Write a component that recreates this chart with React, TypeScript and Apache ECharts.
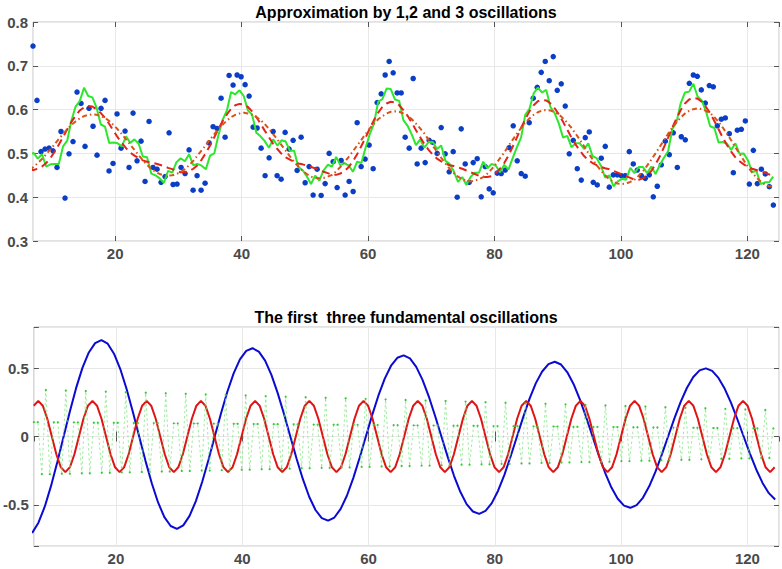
import React, { useEffect, useRef } from "react";
import * as echarts from "echarts";

// ---------------- data ----------------
// Observations and the 3rd oscillation are sampled on a regular grid
const SAMPLE_START = 7;
const SAMPLE_STEP = 0.633;

const OBSERVED: number[] = [
  0.745, 0.621, 0.504, 0.51, 0.512, 0.506, 0.468, 0.55, 0.398, 0.499,
  0.527, 0.64, 0.614, 0.516, 0.603, 0.562, 0.496, 0.603, 0.621, 0.46,
  0.477, 0.59, 0.512, 0.551, 0.468, 0.592, 0.483, 0.528, 0.436, 0.573,
  0.468, 0.464, 0.434, 0.447, 0.547, 0.429, 0.43, 0.468, 0.454, 0.508,
  0.416, 0.449, 0.416, 0.432, 0.524, 0.561, 0.557, 0.626, 0.537, 0.678,
  0.656, 0.679, 0.675, 0.657, 0.631, 0.56, 0.558, 0.512, 0.449, 0.49,
  0.55, 0.449, 0.441, 0.548, 0.51, 0.53, 0.461, 0.537, 0.433, 0.47,
  0.405, 0.464, 0.404, 0.431, 0.5, 0.481, 0.422, 0.484, 0.405, 0.436,
  0.413, 0.57, 0.47, 0.487, 0.519, 0.465, 0.616, 0.636, 0.679, 0.71,
  0.684, 0.638, 0.638, 0.537, 0.512, 0.671, 0.476, 0.512, 0.479, 0.53,
  0.525, 0.5, 0.559, 0.499, 0.458, 0.504, 0.4, 0.556, 0.476, 0.434,
  0.479, 0.488, 0.401, 0.47, 0.419, 0.41, 0.455, 0.454, 0.462, 0.513,
  0.563, 0.483, 0.454, 0.448, 0.57, 0.626, 0.651, 0.685, 0.71, 0.666,
  0.721, 0.644, 0.659, 0.608, 0.499, 0.53, 0.465, 0.439, 0.536, 0.549,
  0.434, 0.428, 0.489, 0.516, 0.423, 0.451, 0.451, 0.449, 0.449, 0.504,
  0.476, 0.462, 0.449, 0.443, 0.451, 0.401, 0.425, 0.474, 0.528, 0.497,
  0.547, 0.468, 0.538, 0.531, 0.66, 0.679, 0.676, 0.645, 0.615, 0.655,
  0.652, 0.563, 0.578, 0.581, 0.545, 0.456, 0.553, 0.555, 0.574, 0.43,
  0.507, 0.431, 0.464, 0.453, 0.424, 0.382,
];

const OSC3: number[] = [
  0.105, 0.105, -0.275, 0.34, -0.275, 0.104, 0.104, -0.272, 0.336, -0.272,
  0.103, 0.103, -0.269, 0.332, -0.269, 0.101, 0.101, -0.265, 0.328, -0.265,
  0.1, 0.1, -0.262, 0.324, -0.262, 0.099, 0.099, -0.259, 0.32, -0.259,
  0.098, 0.098, -0.256, 0.316, -0.256, 0.096, 0.096, -0.252, 0.312, -0.252,
  0.095, 0.095, -0.249, 0.308, -0.249, 0.094, 0.094, -0.246, 0.304, -0.246,
  0.093, 0.093, -0.243, 0.3, -0.243, 0.091, 0.091, -0.239, 0.295, -0.239,
  0.09, 0.09, -0.235, 0.291, -0.235, 0.089, 0.089, -0.232, 0.287, -0.232,
  0.087, 0.087, -0.229, 0.283, -0.229, 0.086, 0.086, -0.226, 0.279, -0.226,
  0.085, 0.085, -0.222, 0.275, -0.222, 0.084, 0.084, -0.219, 0.271, -0.219,
  0.083, 0.083, -0.216, 0.267, -0.216, 0.081, 0.081, -0.213, 0.263, -0.213,
  0.08, 0.08, -0.21, 0.259, -0.21, 0.079, 0.079, -0.206, 0.255, -0.206,
  0.078, 0.078, -0.203, 0.251, -0.203, 0.076, 0.076, -0.2, 0.247, -0.2,
  0.075, 0.075, -0.197, 0.243, -0.197, 0.074, 0.074, -0.193, 0.239, -0.193,
  0.073, 0.073, -0.19, 0.235, -0.19, 0.071, 0.071, -0.187, 0.231, -0.187,
  0.07, 0.07, -0.184, 0.227, -0.184, 0.069, 0.069, -0.18, 0.223, -0.18,
  0.068, 0.068, -0.177, 0.219, -0.177, 0.066, 0.066, -0.173, 0.214, -0.173,
  0.065, 0.065, -0.17, 0.21, -0.17, 0.064, 0.064, -0.167, 0.206, -0.167,
  0.062, 0.062, -0.163, 0.202, -0.163, 0.061, 0.061, -0.16, 0.198, -0.16,
  0.06, 0.06, -0.157, 0.194, -0.157, 0.059,
];

// Approximations (top panel), on a fine grid
const FIT_START = 6.429;
const FIT_STEP = 0.6647;

const FIT_ONE: number[] = [
  0.463, 0.469, 0.478, 0.487, 0.498, 0.509, 0.521, 0.533, 0.544,
  0.555, 0.565, 0.573, 0.58, 0.585, 0.588, 0.589, 0.588, 0.585,
  0.581, 0.574, 0.565, 0.555, 0.544, 0.532, 0.52, 0.508, 0.496,
  0.484, 0.474, 0.465, 0.458, 0.453, 0.45, 0.449, 0.45, 0.453,
  0.457, 0.464, 0.473, 0.483, 0.495, 0.507, 0.519, 0.532, 0.544,
  0.556, 0.566, 0.575, 0.583, 0.588, 0.591, 0.593, 0.591, 0.588,
  0.583, 0.576, 0.567, 0.556, 0.544, 0.532, 0.519, 0.506, 0.493,
  0.481, 0.47, 0.46, 0.453, 0.447, 0.444, 0.443, 0.444, 0.447,
  0.451, 0.459, 0.469, 0.48, 0.492, 0.505, 0.518, 0.531, 0.544,
  0.557, 0.568, 0.578, 0.585, 0.591, 0.595, 0.596, 0.595, 0.591,
  0.586, 0.578, 0.568, 0.557, 0.545, 0.531, 0.517, 0.504, 0.49,
  0.477, 0.465, 0.455, 0.447, 0.441, 0.438, 0.436, 0.438, 0.441,
  0.446, 0.454, 0.464, 0.476, 0.489, 0.502, 0.517, 0.531, 0.545,
  0.558, 0.57, 0.58, 0.588, 0.594, 0.598, 0.599, 0.598, 0.594,
  0.589, 0.58, 0.57, 0.558, 0.545, 0.531, 0.516, 0.501, 0.487,
  0.473, 0.461, 0.45, 0.441, 0.435, 0.431, 0.43, 0.431, 0.435,
  0.44, 0.449, 0.459, 0.472, 0.486, 0.5, 0.515, 0.53, 0.545,
  0.559, 0.571, 0.582, 0.591, 0.597, 0.601, 0.603, 0.601, 0.597,
  0.592, 0.583, 0.572, 0.559, 0.545, 0.53, 0.514, 0.499, 0.484,
  0.469, 0.456, 0.445, 0.436, 0.429, 0.425, 0.424,
];

const FIT_TWO: number[] = [
  0.463, 0.462, 0.465, 0.47, 0.478, 0.489, 0.504, 0.52, 0.537,
  0.555, 0.572, 0.586, 0.598, 0.605, 0.608, 0.607, 0.601, 0.592,
  0.581, 0.567, 0.552, 0.537, 0.524, 0.512, 0.502, 0.495, 0.489,
  0.484, 0.481, 0.479, 0.477, 0.474, 0.471, 0.467, 0.464, 0.46,
  0.457, 0.457, 0.459, 0.465, 0.473, 0.486, 0.501, 0.518, 0.537,
  0.556, 0.574, 0.589, 0.602, 0.61, 0.613, 0.612, 0.606, 0.596,
  0.583, 0.568, 0.552, 0.537, 0.522, 0.51, 0.499, 0.491, 0.486,
  0.481, 0.477, 0.475, 0.472, 0.469, 0.466, 0.462, 0.458, 0.455,
  0.451, 0.451, 0.454, 0.46, 0.469, 0.482, 0.498, 0.517, 0.536,
  0.557, 0.576, 0.593, 0.606, 0.614, 0.618, 0.616, 0.61, 0.599,
  0.586, 0.57, 0.553, 0.537, 0.521, 0.508, 0.497, 0.488, 0.482,
  0.477, 0.473, 0.471, 0.468, 0.465, 0.461, 0.457, 0.453, 0.449,
  0.446, 0.446, 0.448, 0.455, 0.465, 0.478, 0.495, 0.515, 0.536,
  0.558, 0.578, 0.596, 0.61, 0.619, 0.622, 0.621, 0.614, 0.603,
  0.589, 0.572, 0.554, 0.536, 0.52, 0.506, 0.494, 0.485, 0.478,
  0.473, 0.469, 0.466, 0.464, 0.46, 0.456, 0.452, 0.448, 0.444,
  0.44, 0.44, 0.443, 0.449, 0.46, 0.475, 0.493, 0.514, 0.536,
  0.559, 0.58, 0.599, 0.614, 0.623, 0.627, 0.625, 0.618, 0.606,
  0.592, 0.574, 0.555, 0.536, 0.519, 0.504, 0.491, 0.482, 0.475,
  0.469, 0.465, 0.462, 0.459, 0.456, 0.452, 0.447,
];

const FIT_THREE: number[] = [
  0.497, 0.501, 0.488, 0.498, 0.47, 0.475, 0.476, 0.476, 0.516,
  0.529, 0.575, 0.607, 0.62, 0.65, 0.631, 0.628, 0.604, 0.566,
  0.561, 0.524, 0.525, 0.523, 0.516, 0.539, 0.524, 0.532, 0.522,
  0.493, 0.491, 0.454, 0.45, 0.443, 0.433, 0.46, 0.456, 0.48,
  0.489, 0.482, 0.498, 0.473, 0.476, 0.472, 0.464, 0.495, 0.5,
  0.542, 0.577, 0.598, 0.64, 0.635, 0.644, 0.631, 0.598, 0.589,
  0.547, 0.539, 0.528, 0.513, 0.532, 0.518, 0.53, 0.527, 0.506,
  0.506, 0.469, 0.462, 0.448, 0.43, 0.449, 0.438, 0.461, 0.474,
  0.47, 0.492, 0.473, 0.478, 0.472, 0.458, 0.481, 0.478, 0.513,
  0.544, 0.568, 0.618, 0.624, 0.648, 0.647, 0.623, 0.62, 0.576,
  0.563, 0.543, 0.519, 0.532, 0.513, 0.526, 0.526, 0.51, 0.518,
  0.483, 0.476, 0.459, 0.435, 0.446, 0.428, 0.446, 0.456, 0.456,
  0.481, 0.466, 0.476, 0.472, 0.457, 0.474, 0.463, 0.489, 0.514,
  0.536, 0.588, 0.602, 0.637, 0.65, 0.639, 0.645, 0.606, 0.592,
  0.568, 0.536, 0.54, 0.514, 0.523, 0.523, 0.51, 0.523, 0.494,
  0.489, 0.472, 0.445, 0.45, 0.425, 0.436, 0.442, 0.44, 0.467,
  0.455, 0.469, 0.469, 0.455, 0.47, 0.453, 0.473, 0.49, 0.505,
  0.556, 0.572, 0.615, 0.639, 0.641, 0.659, 0.63, 0.621, 0.596,
  0.562, 0.558, 0.525, 0.526, 0.522, 0.508, 0.523, 0.499, 0.5,
  0.484, 0.457, 0.46, 0.43, 0.434, 0.434, 0.447,
];

// First fundamental oscillation (bottom panel)
const OSC1_START = 6.73;
const OSC1_STEP = 0.9971;
const OSC1: number[] = [
  -0.705, -0.63, -0.513, -0.361, -0.187, 0, 0.185, 0.357, 0.503, 0.614, 0.682, 0.704,
  0.678, 0.605, 0.493, 0.347, 0.179, 0, -0.178, -0.342, -0.482, -0.589, -0.654, -0.675,
  -0.649, -0.58, -0.472, -0.332, -0.171, 0, 0.17, 0.327, 0.461, 0.563, 0.625, 0.645,
  0.62, 0.554, 0.45, 0.317, 0.164, 0, -0.162, -0.312, -0.44, -0.537, -0.596, -0.615,
  -0.592, -0.529, -0.431, -0.304, -0.157, 0, 0.156, 0.3, 0.423, 0.517, 0.575, 0.593,
  0.571, 0.509, 0.414, 0.292, 0.15, 0, -0.149, -0.287, -0.404, -0.494, -0.548, -0.565,
  -0.544, -0.487, -0.396, -0.28, -0.144, 0, 0.143, 0.277, 0.39, 0.475, 0.529, 0.546,
  0.526, 0.469, 0.382, 0.269, 0.139, 0, -0.138, -0.265, -0.373, -0.455, -0.505, -0.521,
  -0.501, -0.448, -0.364, -0.257, -0.132, 0, 0.132, 0.253, 0.356, 0.435, 0.483, 0.498,
  0.479, 0.428, 0.348, 0.245, 0.126, 0, -0.125, -0.241, -0.339, -0.414, -0.46,
];

// Second fundamental oscillation (bottom panel)
const OSC2_START = 6.985;
const OSC2_STEP = 0.7154;
const OSC2: number[] = [
  0.225, 0.26, 0.225, 0.13, 0, -0.13, -0.225, -0.26, -0.225, -0.13, 0, 0.13,
  0.225, 0.26, 0.225, 0.13, 0, -0.13, -0.225, -0.26, -0.225, -0.13, 0, 0.13,
  0.225, 0.26, 0.225, 0.13, 0, -0.13, -0.225, -0.26, -0.225, -0.13, 0, 0.13,
  0.225, 0.26, 0.225, 0.13, 0, -0.13, -0.225, -0.26, -0.225, -0.13, 0, 0.13,
  0.225, 0.26, 0.225, 0.13, 0, -0.13, -0.225, -0.26, -0.225, -0.13, 0, 0.13,
  0.225, 0.26, 0.225, 0.13, 0, -0.13, -0.225, -0.26, -0.225, -0.13, 0, 0.13,
  0.225, 0.26, 0.225, 0.13, 0, -0.13, -0.225, -0.26, -0.225, -0.13, 0, 0.13,
  0.225, 0.26, 0.225, 0.13, 0, -0.13, -0.225, -0.26, -0.225, -0.13, 0, 0.13,
  0.225, 0.26, 0.225, 0.13, 0, -0.13, -0.225, -0.26, -0.225, -0.13, 0, 0.13,
  0.225, 0.26, 0.225, 0.13, 0, -0.13, -0.225, -0.26, -0.225, -0.13, 0, 0.13,
  0.225, 0.26, 0.225, 0.13, 0, -0.13, -0.225, -0.26, -0.225, -0.13, 0, 0.13,
  0.225, 0.26, 0.225, 0.13, 0, -0.13, -0.225, -0.26, -0.225, -0.13, 0, 0.13,
  0.225, 0.26, 0.225, 0.13, 0, -0.13, -0.225, -0.26, -0.225, -0.13, 0, 0.13,
  0.225, 0.26, 0.225, 0.13, 0, -0.13, -0.225, -0.26, -0.225,
];

const X_MIN = 7;
const X_MAX = 125;
const X_TICKS = [20, 40, 60, 80, 100, 120];
const TOP_Y_TICKS = [0.3, 0.4, 0.5, 0.6, 0.7, 0.8];
const BOTTOM_Y_TICKS = [-0.5, 0, 0.5];
const TITLE_TOP = "Approximation by 1,2 and 3 oscillations";
const TITLE_BOTTOM = "The first  three fundamental oscillations";

// ---------------- helpers ----------------
const toPairs = (start: number, step: number, ys: number[]) =>
  ys.map((y, i) => [Number((start + i * step).toFixed(4)), y]);

const matchTick = (v: number, ticks: number[]) =>
  ticks.find((t) => Math.abs(t - v) < 1e-6);

const LABEL_FONT = {
  fontFamily: "Liberation Sans, Arial, sans-serif",
  fontWeight: "bold" as const,
  fontSize: 15,
  color: "#4a4a4a",
};
const GRID_LINE = { show: true, lineStyle: { color: "#e8e8e8", width: 1 } };
const TICK = { show: true, inside: true, length: 5, lineStyle: { color: "#555", width: 1 } };

function xAxes(gridIndex: number) {
  return [
    {
      type: "value",
      gridIndex,
      min: X_MIN,
      max: X_MAX,
      splitNumber: 6,
      axisLine: { show: false },
      axisTick: TICK,
      splitLine: GRID_LINE,
      axisLabel: {
        ...LABEL_FONT,
        margin: 5,
        showMinLabel: false,
        showMaxLabel: false,
        formatter: (v: number) => {
          const t = matchTick(v, X_TICKS);
          return t === undefined ? "" : String(t);
        },
      },
    },
    {
      type: "value",
      gridIndex,
      position: "top",
      min: X_MIN,
      max: X_MAX,
      splitNumber: 6,
      axisLine: { show: false },
      axisTick: TICK,
      splitLine: { show: false },
      axisLabel: { show: false },
    },
  ];
}

function yAxes(gridIndex: number, min: number, max: number, ticks: number[], extra: any, fmt: (t: number) => string) {
  return [
    {
      type: "value",
      gridIndex,
      min,
      max,
      ...extra,
      axisLine: { show: false },
      axisTick: TICK,
      splitLine: GRID_LINE,
      axisLabel: {
        ...LABEL_FONT,
        margin: 5,
        formatter: (v: number) => {
          const t = matchTick(v, ticks);
          return t === undefined ? "" : fmt(t);
        },
      },
    },
    {
      type: "value",
      gridIndex,
      position: "right",
      min,
      max,
      ...extra,
      axisLine: { show: false },
      axisTick: TICK,
      splitLine: { show: false },
      axisLabel: { show: false },
    },
  ];
}

const titleText = (text: string, y: number) => ({
  type: "text",
  x: 406,
  y,
  silent: true,
  style: {
    text,
    fill: "#000",
    font: "bold 16px 'Liberation Sans', Arial, sans-serif",
    align: "center",
    verticalAlign: "middle",
    textAlign: "center",
    textVerticalAlign: "middle",
  },
});

export default function App() {
  const ref = useRef<HTMLDivElement>(null);

  useEffect(() => {
    if (!ref.current) return;
    const chart = echarts.init(ref.current, undefined, { renderer: "svg" });

    const gridBox = { show: true, borderColor: "#c4c4c4", borderWidth: 1, backgroundColor: "#fff" };

    const option: any = {
      animation: false,
      backgroundColor: "#ffffff",
      grid: [
        { left: 33, top: 22, width: 746, height: 219, ...gridBox },
        { left: 33, top: 327, width: 746, height: 219, ...gridBox },
      ],
      xAxis: [...xAxes(0), ...xAxes(1)],
      yAxis: [
        ...yAxes(0, 0.3, 0.8, TOP_Y_TICKS, { interval: 0.1 }, (t) => t.toFixed(1)),
        ...yAxes(1, -0.8, 0.8, BOTTOM_Y_TICKS, { splitNumber: 3 }, (t) => (t === 0 ? "0" : String(t))),
      ],
      graphic: [titleText(TITLE_TOP, 12), titleText(TITLE_BOTTOM, 317)],
      series: [
        {
          type: "scatter",
          xAxisIndex: 0,
          yAxisIndex: 0,
          data: toPairs(SAMPLE_START, SAMPLE_STEP, OBSERVED),
          symbol: "circle",
          symbolSize: 5.5,
          itemStyle: { color: "#0a3ec6", opacity: 1 },
          silent: true,
        },
        {
          type: "line",
          xAxisIndex: 0,
          yAxisIndex: 0,
          data: toPairs(FIT_START, FIT_STEP, FIT_THREE),
          showSymbol: false,
          lineStyle: { color: "#2ee62e", width: 2 },
          silent: true,
        },
        {
          type: "line",
          xAxisIndex: 0,
          yAxisIndex: 0,
          data: toPairs(FIT_START, FIT_STEP, FIT_TWO),
          showSymbol: false,
          lineStyle: { color: "#e3241c", width: 2, type: [8, 5] },
          silent: true,
        },
        {
          type: "line",
          xAxisIndex: 0,
          yAxisIndex: 0,
          data: toPairs(FIT_START, FIT_STEP, FIT_ONE),
          showSymbol: false,
          lineStyle: { color: "#d95319", width: 2, type: [5, 3, 1.5, 3] },
          silent: true,
        },
        {
          type: "line",
          xAxisIndex: 2,
          yAxisIndex: 2,
          data: toPairs(OSC1_START, OSC1_STEP, OSC1),
          showSymbol: false,
          lineStyle: { color: "#0a0ad2", width: 2 },
          silent: true,
        },
        {
          type: "line",
          xAxisIndex: 2,
          yAxisIndex: 2,
          data: toPairs(OSC2_START, OSC2_STEP, OSC2),
          showSymbol: false,
          lineStyle: { color: "#e01414", width: 2 },
          silent: true,
        },
        {
          type: "line",
          xAxisIndex: 2,
          yAxisIndex: 2,
          data: toPairs(SAMPLE_START, SAMPLE_STEP, OSC3),
          showSymbol: true,
          showAllSymbol: true,
          symbol: "circle",
          symbolSize: 2.2,
          itemStyle: { color: "#33cc33" },
          lineStyle: { color: "#77e377", width: 0.7, type: [2.5, 2.5] },
          silent: true,
        },
      ],
    };

    chart.setOption(option);
    return () => chart.dispose();
  }, []);

  return (
    <div
      ref={ref}
      style={{ position: "fixed", left: 0, top: 0, width: 782, height: 569, background: "#fff" }}
    />
  );
}
